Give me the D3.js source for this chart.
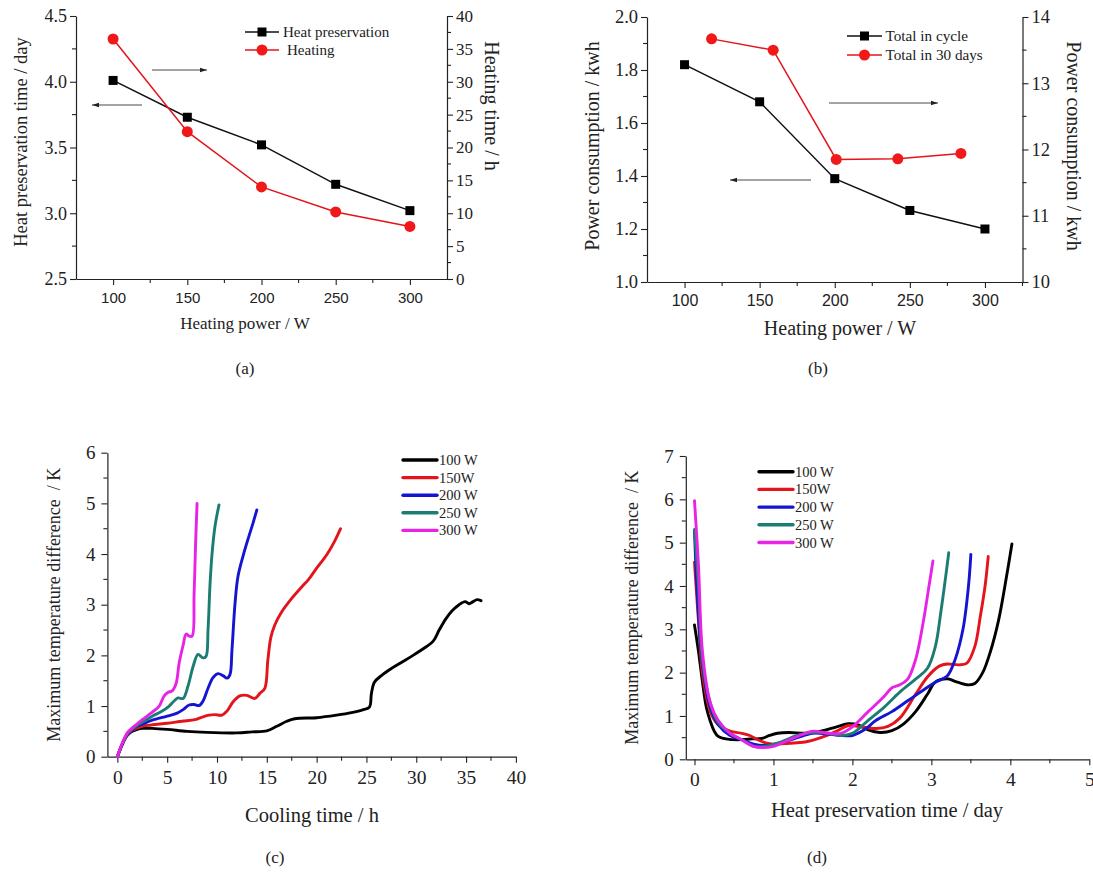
<!DOCTYPE html>
<html><head><meta charset="utf-8">
<script src="https://cdn.jsdelivr.net/npm/d3@7"></script>
<style>
body{margin:0;background:#fff;}
svg{display:block;}
text{font-family:"Liberation Serif","Times New Roman",serif;fill:#222;}
.sans{font-family:"Liberation Sans",Arial,sans-serif;}
</style></head><body>
<svg id="c" width="1093" height="884"></svg>
<script>
// ---------- DATA ----------
// Panel (a)
const powerA = [100, 150, 200, 250, 300];
const heatPreservationDays = [4.01, 3.73, 3.52, 3.22, 3.02];
const heatingHours = [36.5, 22.4, 14.0, 10.2, 8.0];
const xTicksAB = [100, 150, 200, 250, 300];
const yTicksAleft = [2.5, 3.0, 3.5, 4.0, 4.5];
const yTicksAright = [0, 5, 10, 15, 20, 25, 30, 35, 40];
// Panel (b)
const powerB = [100, 150, 200, 250, 300];
const totalInCycle = [1.82, 1.68, 1.39, 1.27, 1.20];
const power30 = [118, 159, 201, 242, 284];
const totalIn30Days = [13.67, 13.50, 11.85, 11.86, 11.94];
const yTicksBleft = [1.0, 1.2, 1.4, 1.6, 1.8, 2.0];
const yTicksBright = [10, 11, 12, 13, 14];
// Panel (c) cooling curves: [time h, dT K]
const seriesNames = ["100 W", "150W", "200 W", "250 W", "300 W"];
const seriesColors = ["#000000", "#e3141b", "#1414d2", "#1b7d72", "#e823e6"];
const cool100 = [[0,0],[0.5,0.25],[1,0.42],[1.5,0.5],[2,0.54],[2.5,0.56],[3.5,0.56],[5,0.54],[7,0.5],[9,0.48],[12,0.47],[13.5,0.49],[15,0.51],[16,0.6],[17,0.7],[17.8,0.75],[20,0.77],[22,0.82],[23.5,0.87],[24.7,0.93],[25.3,0.98],[25.5,1.25],[25.8,1.47],[26.5,1.6],[27.5,1.74],[28.5,1.86],[29.6,1.99],[30.7,2.13],[31.7,2.28],[32.3,2.5],[33,2.73],[33.6,2.88],[34.3,3.0],[34.9,3.06],[35.3,3.02],[35.7,3.06],[36.1,3.1],[36.5,3.08]];
const cool150 = [[0,0],[0.5,0.25],[1,0.43],[1.5,0.52],[2,0.57],[2.5,0.6],[3.5,0.63],[5,0.66],[6.5,0.7],[7.8,0.73],[8.5,0.78],[9.2,0.82],[9.8,0.83],[10.5,0.82],[11,0.9],[11.6,1.08],[12.3,1.2],[13,1.21],[13.8,1.15],[14.3,1.25],[14.8,1.35],[15.1,1.9],[15.4,2.35],[15.8,2.6],[16.5,2.86],[17.4,3.1],[18.5,3.35],[19.2,3.5],[20,3.72],[21,3.98],[21.8,4.25],[22.4,4.5]];
const cool200 = [[0,0],[0.5,0.25],[1,0.44],[1.5,0.53],[2,0.6],[2.5,0.64],[3.5,0.72],[5,0.8],[6,0.86],[6.6,0.93],[7.2,1.02],[7.7,1.03],[8.2,1.01],[8.6,1.1],[9.1,1.35],[9.6,1.56],[10.1,1.64],[10.6,1.6],[11,1.55],[11.3,1.62],[11.5,2.1],[11.8,3.0],[12.1,3.55],[12.6,3.95],[13.2,4.35],[13.6,4.6],[14,4.87]];
const cool250 = [[0,0],[0.5,0.26],[1,0.45],[1.5,0.55],[2,0.62],[2.5,0.68],[3.5,0.8],[4.5,0.9],[5.2,1.0],[5.7,1.1],[6.1,1.16],[6.6,1.15],[7.1,1.4],[7.6,1.78],[8.1,2.02],[8.6,1.95],[8.9,1.98],[9.1,2.5],[9.3,3.4],[9.5,4.0],[9.8,4.55],[10.2,4.97]];
const cool300 = [[0,0],[0.5,0.27],[1,0.47],[1.5,0.57],[2,0.65],[2.5,0.73],[3.5,0.88],[4.2,1.0],[4.7,1.2],[5.1,1.27],[5.5,1.3],[5.9,1.45],[6.2,1.85],[6.6,2.2],[6.9,2.42],[7.2,2.38],[7.5,2.38],[7.7,3.2],[7.85,4.2],[8.0,5.0]];
const coolingData = [cool100, cool150, cool200, cool250, cool300];
const xTicksC = [0, 5, 10, 15, 20, 25, 30, 35, 40];
const yTicksC = [0, 1, 2, 3, 4, 5, 6];
// Panel (d) heat preservation curves: [time day, dT K]
const pres100 = [[0,3.1],[0.05,2.5],[0.1,1.8],[0.15,1.2],[0.2,0.88],[0.25,0.65],[0.3,0.53],[0.4,0.47],[0.55,0.45],[0.7,0.47],[0.85,0.48],[0.95,0.55],[1.05,0.6],[1.2,0.62],[1.4,0.6],[1.6,0.65],[1.8,0.75],[1.95,0.82],[2.08,0.79],[2.2,0.68],[2.35,0.62],[2.5,0.66],[2.65,0.82],[2.8,1.1],[2.95,1.5],[3.05,1.78],[3.2,1.86],[3.3,1.8],[3.45,1.72],[3.55,1.75],[3.65,2.0],[3.75,2.5],[3.85,3.2],[3.95,4.2],[4.02,4.97]];
const pres150 = [[0,4.55],[0.05,3.2],[0.1,2.0],[0.2,1.1],[0.3,0.8],[0.45,0.65],[0.6,0.6],[0.7,0.55],[0.8,0.45],[0.9,0.38],[1.0,0.35],[1.2,0.37],[1.4,0.4],[1.6,0.5],[1.8,0.65],[1.95,0.78],[2.1,0.75],[2.3,0.71],[2.45,0.76],[2.6,0.95],[2.8,1.5],[2.95,1.9],[3.1,2.15],[3.2,2.2],[3.35,2.18],[3.45,2.22],[3.55,2.6],[3.62,3.3],[3.68,4.0],[3.72,4.68]];
const pres200 = [[0,5.3],[0.03,4.0],[0.1,2.2],[0.2,1.2],[0.3,0.8],[0.45,0.55],[0.6,0.45],[0.75,0.35],[0.9,0.32],[1.1,0.38],[1.3,0.5],[1.5,0.6],[1.7,0.58],[1.85,0.55],[2.0,0.55],[2.15,0.68],[2.3,0.9],[2.5,1.1],[2.7,1.35],[2.9,1.6],[3.05,1.78],[3.2,1.92],[3.3,2.3],[3.4,3.0],[3.47,4.0],[3.5,4.73]];
const pres250 = [[0,5.3],[0.05,4.0],[0.1,2.3],[0.2,1.3],[0.3,0.85],[0.45,0.6],[0.6,0.45],[0.75,0.3],[0.9,0.3],[1.1,0.4],[1.3,0.55],[1.5,0.62],[1.7,0.6],[1.85,0.55],[2.0,0.6],[2.2,0.9],[2.4,1.2],[2.6,1.55],[2.8,1.85],[2.95,2.1],[3.05,2.6],[3.12,3.4],[3.18,4.2],[3.22,4.77]];
const pres300 = [[0,5.97],[0.05,4.5],[0.1,2.5],[0.2,1.3],[0.3,0.9],[0.45,0.6],[0.6,0.45],[0.75,0.3],[0.85,0.27],[1.0,0.3],[1.2,0.45],[1.4,0.6],[1.5,0.65],[1.7,0.6],[1.85,0.6],[2.0,0.75],[2.2,1.1],[2.4,1.45],[2.5,1.65],[2.6,1.72],[2.7,1.85],[2.8,2.3],[2.9,3.2],[2.97,4.0],[3.02,4.58]];
const preservationData = [pres100, pres150, pres200, pres250, pres300];
const xTicksD = [0, 1, 2, 3, 4, 5];
const yTicksD = [0, 1, 2, 3, 4, 5, 6, 7];

// ---------- DRAW ----------
const svg = d3.select("#c");
const fmtInt = d3.format("d");
const fmt1 = d3.format(".1f");

function axisStyle(g){
  g.selectAll("path.domain").attr("stroke","#222").attr("stroke-width",1.2);
  g.selectAll(".tick line").attr("stroke","#222").attr("stroke-width",1.1);
}
function minorTicks(g, scale, vals, orient, len){
  vals.forEach(v=>{
    const p = scale(v);
    let l;
    if(orient==="bottom") l = g.append("line").attr("x1",p).attr("x2",p).attr("y1",0).attr("y2",len);
    if(orient==="left") l = g.append("line").attr("y1",p).attr("y2",p).attr("x1",0).attr("x2",-len);
    if(orient==="right") l = g.append("line").attr("y1",p).attr("y2",p).attr("x1",0).attr("x2",len);
    l.attr("stroke","#222").attr("stroke-width",1.1);
  });
}
function mids(ticks){const m=[];for(let i=0;i<ticks.length-1;i++)m.push((ticks[i]+ticks[i+1])/2);return m;}

function arrow(g, x1, y, x2){
  const dir = x2>x1?1:-1;
  g.append("line").attr("x1",x1).attr("x2",x2).attr("y1",y).attr("y2",y).attr("stroke","#333").attr("stroke-width",0.9);
  g.append("path").attr("d",`M${x2},${y} L${x2-dir*7},${y-2.2} L${x2-dir*7},${y+2.2} Z`).attr("fill","#222");
}

// ===== Panel (a) =====
(function(){
  const L=76, R=447, T=16, B=279;
  const g = svg.append("g");
  const x = d3.scaleLinear().domain([75,325]).range([L,R]);
  const yl = d3.scaleLinear().domain([2.5,4.5]).range([B,T]);
  const yr = d3.scaleLinear().domain([0,40]).range([B,T]);
  const gx = g.append("g").attr("transform",`translate(0,${B})`).call(d3.axisBottom(x).tickValues(xTicksAB).tickFormat(fmtInt).tickSize(6).tickSizeOuter(0).tickPadding(7));
  gx.selectAll("text").attr("class","sans").attr("font-size",15);
  axisStyle(gx); minorTicks(gx,x,[125,175,225,275],"bottom",4);
  const gyl = g.append("g").attr("transform",`translate(${L},0)`).call(d3.axisLeft(yl).tickValues(yTicksAleft).tickFormat(fmt1).tickSize(6).tickSizeOuter(0).tickPadding(3));
  gyl.selectAll("text").attr("font-size",18);
  axisStyle(gyl); minorTicks(gyl,yl,mids(yTicksAleft),"left",4);
  const gyr = g.append("g").attr("transform",`translate(${R},0)`).call(d3.axisRight(yr).tickValues(yTicksAright).tickFormat(fmtInt).tickSize(6).tickSizeOuter(0).tickPadding(3));
  gyr.selectAll("text").attr("font-size",17);
  axisStyle(gyr); minorTicks(gyr,yr,mids(yTicksAright),"right",4);

  const lineL = d3.line().x((d,i)=>x(powerA[i])).y(d=>yl(d));
  g.append("path").attr("d",lineL(heatPreservationDays)).attr("fill","none").attr("stroke","#111").attr("stroke-width",1.5);
  const lineR = d3.line().x((d,i)=>x(powerA[i])).y(d=>yr(d));
  g.append("path").attr("d",lineR(heatingHours)).attr("fill","none").attr("stroke","#e3141b").attr("stroke-width",1.5);
  g.selectAll("rect.m").data(heatPreservationDays).enter().append("rect").attr("x",(d,i)=>x(powerA[i])-4.5).attr("y",d=>yl(d)-4.5).attr("width",9).attr("height",9).attr("fill","#000");
  g.selectAll("circle.m").data(heatingHours).enter().append("circle").attr("cx",(d,i)=>x(powerA[i])).attr("cy",d=>yr(d)).attr("r",5.5).attr("fill","#f01818");

  // legend
  g.append("line").attr("x1",245).attr("x2",279).attr("y1",32).attr("y2",32).attr("stroke","#111").attr("stroke-width",1.5);
  g.append("rect").attr("x",257.5).attr("y",27.5).attr("width",9).attr("height",9).attr("fill","#000");
  g.append("text").attr("x",283).attr("y",37).attr("font-size",15).text("Heat preservation");
  g.append("line").attr("x1",245).attr("x2",279).attr("y1",50).attr("y2",50).attr("stroke","#e3141b").attr("stroke-width",1.5);
  g.append("circle").attr("cx",262).attr("cy",50).attr("r",5.5).attr("fill","#f01818");
  g.append("text").attr("x",287).attr("y",55).attr("font-size",15).text("Heating");

  arrow(g,152,70,207);
  arrow(g,142,105,92);

  g.append("text").attr("transform",`translate(27,142) rotate(-90)`).attr("text-anchor","middle").attr("font-size",18.5).text("Heat preservation time / day");
  g.append("text").attr("transform",`translate(485,106) rotate(90)`).attr("text-anchor","middle").attr("font-size",20).text("Heating time / h");
  g.append("text").attr("x",245).attr("y",329).attr("text-anchor","middle").attr("font-size",17).text("Heating power / W");
  g.append("text").attr("x",245).attr("y",374).attr("text-anchor","middle").attr("font-size",17).text("(a)");
})();

// ===== Panel (b) =====
(function(){
  const L=647, R=1022.5, T=17, B=282;
  const g = svg.append("g");
  const x = d3.scaleLinear().domain([75,325]).range([L,R]);
  const yl = d3.scaleLinear().domain([1.0,2.0]).range([B,T]);
  const yr = d3.scaleLinear().domain([10,14]).range([B,T]);
  const gx = g.append("g").attr("transform",`translate(0,${B})`).call(d3.axisBottom(x).tickValues(xTicksAB).tickFormat(fmtInt).tickSize(6).tickSizeOuter(0).tickPadding(7));
  gx.selectAll("text").attr("class","sans").attr("font-size",16);
  axisStyle(gx); minorTicks(gx,x,[125,175,225,275,325],"bottom",4);
  const gyl = g.append("g").attr("transform",`translate(${L},0)`).call(d3.axisLeft(yl).tickValues(yTicksBleft).tickFormat(fmt1).tickSize(6).tickSizeOuter(0).tickPadding(3));
  gyl.selectAll("text").attr("font-size",18.5);
  axisStyle(gyl); minorTicks(gyl,yl,mids(yTicksBleft),"left",4);
  const gyr = g.append("g").attr("transform",`translate(${R},0)`).call(d3.axisRight(yr).tickValues(yTicksBright).tickFormat(fmtInt).tickSize(6).tickSizeOuter(0).tickPadding(3));
  gyr.selectAll("text").attr("font-size",18.5);
  axisStyle(gyr); minorTicks(gyr,yr,mids(yTicksBright),"right",4);

  const lineL = d3.line().x((d,i)=>x(powerB[i])).y(d=>yl(d));
  g.append("path").attr("d",lineL(totalInCycle)).attr("fill","none").attr("stroke","#111").attr("stroke-width",1.5);
  const lineR = d3.line().x((d,i)=>x(power30[i])).y(d=>yr(d));
  g.append("path").attr("d",lineR(totalIn30Days)).attr("fill","none").attr("stroke","#e3141b").attr("stroke-width",1.5);
  g.selectAll("rect.m").data(totalInCycle).enter().append("rect").attr("x",(d,i)=>x(powerB[i])-4.5).attr("y",d=>yl(d)-4.5).attr("width",9).attr("height",9).attr("fill","#000");
  g.selectAll("circle.m").data(totalIn30Days).enter().append("circle").attr("cx",(d,i)=>x(power30[i])).attr("cy",d=>yr(d)).attr("r",5.5).attr("fill","#f01818");

  g.append("line").attr("x1",847).attr("x2",882).attr("y1",36).attr("y2",36).attr("stroke","#111").attr("stroke-width",1.5);
  g.append("rect").attr("x",860).attr("y",31.5).attr("width",9).attr("height",9).attr("fill","#000");
  g.append("text").attr("x",885.5).attr("y",41).attr("font-size",15.2).text("Total in cycle");
  g.append("line").attr("x1",847).attr("x2",882).attr("y1",55).attr("y2",55).attr("stroke","#e3141b").attr("stroke-width",1.5);
  g.append("circle").attr("cx",864.5).attr("cy",55).attr("r",5.5).attr("fill","#f01818");
  g.append("text").attr("x",885.5).attr("y",60).attr("font-size",15.2).text("Total in 30 days");

  arrow(g,829,103,938);
  arrow(g,811,180,730);

  g.append("text").attr("transform",`translate(599,146) rotate(-90)`).attr("text-anchor","middle").attr("font-size",20).text("Power consumption / kwh");
  g.append("text").attr("transform",`translate(1067,146) rotate(90)`).attr("text-anchor","middle").attr("font-size",20).text("Power consumption / kwh");
  g.append("text").attr("x",840).attr("y",335).attr("text-anchor","middle").attr("font-size",20).text("Heating power / W");
  g.append("text").attr("x",818).attr("y",374).attr("text-anchor","middle").attr("font-size",17).text("(b)");
})();

// ===== Curve panels =====
function curvePanel(opt){
  const g = svg.append("g");
  const x = d3.scaleLinear().domain(opt.xd).range([opt.L,opt.R]);
  const y = d3.scaleLinear().domain(opt.yd).range([opt.B,opt.T]);
  const gx = g.append("g").attr("transform",`translate(0,${opt.B})`).call(d3.axisBottom(x).tickValues(opt.xt).tickFormat(fmtInt).tickSize(6).tickSizeOuter(0).tickPadding(7));
  gx.selectAll("text").attr("font-size",19.5);
  axisStyle(gx); minorTicks(gx,x,mids(opt.xt),"bottom",4);
  const gy = g.append("g").attr("transform",`translate(${opt.L},0)`).call(d3.axisLeft(y).tickValues(opt.yt).tickFormat(fmtInt).tickSize(6).tickSizeOuter(0).tickPadding(6));
  gy.selectAll("text").attr("font-size",19);
  axisStyle(gy); minorTicks(gy,y,mids(opt.yt),"left",4);
  const lineAny = d3.line().x(d=>x(d[0])).y(d=>y(d[1])).curve(d3.curveCatmullRom.alpha(0.5));
  opt.data.forEach((s,i)=>{
    g.append("path").attr("d",lineAny(s)).attr("fill","none").attr("stroke",seriesColors[i]).attr("stroke-width",2.9).attr("stroke-linejoin","round").attr("stroke-linecap","round");
  });
  seriesNames.forEach((n,i)=>{
    const yy = opt.legY + i*opt.legDy;
    g.append("line").attr("x1",opt.legX).attr("x2",opt.legX+34).attr("y1",yy).attr("y2",yy).attr("stroke",seriesColors[i]).attr("stroke-width",3.4).attr("stroke-linecap","round");
    g.append("text").attr("x",opt.legX+36).attr("y",yy+5).attr("font-size",14.5).text(n);
  });
  g.append("text").attr("transform",`translate(${opt.ylabX},${(opt.T+opt.B)/2}) rotate(-90)`).attr("text-anchor","middle").attr("font-size",18).attr("xml:space","preserve").text("Maximum temperature difference  / K");
  g.append("text").attr("x",opt.xlabX).attr("y",opt.xlabY).attr("text-anchor","middle").attr("font-size",20.5).text(opt.xlab);
  g.append("text").attr("x",opt.tagX).attr("y",863).attr("text-anchor","middle").attr("font-size",17).text(opt.tag);
}

curvePanel({L:107.4, R:515.9, T:452.7, B:756.7, xd:[-1,40], yd:[0,6], xt:xTicksC, yt:yTicksC, data:coolingData,
  legX:403, legY:460, legDy:17.6, ylabX:60, xlabX:312, xlabY:822, xlab:"Cooling time / h", tagX:275, tag:"(c)"});
curvePanel({L:685.8, R:1089.3, T:456, B:759.3, xd:[-0.11,5], yd:[0,7], xt:xTicksD, yt:yTicksD, data:preservationData,
  legX:759, legY:471.7, legDy:17.7, ylabX:638, xlabX:887, xlabY:817, xlab:"Heat preservation time / day", tagX:817, tag:"(d)"});
</script>
</body></html>
